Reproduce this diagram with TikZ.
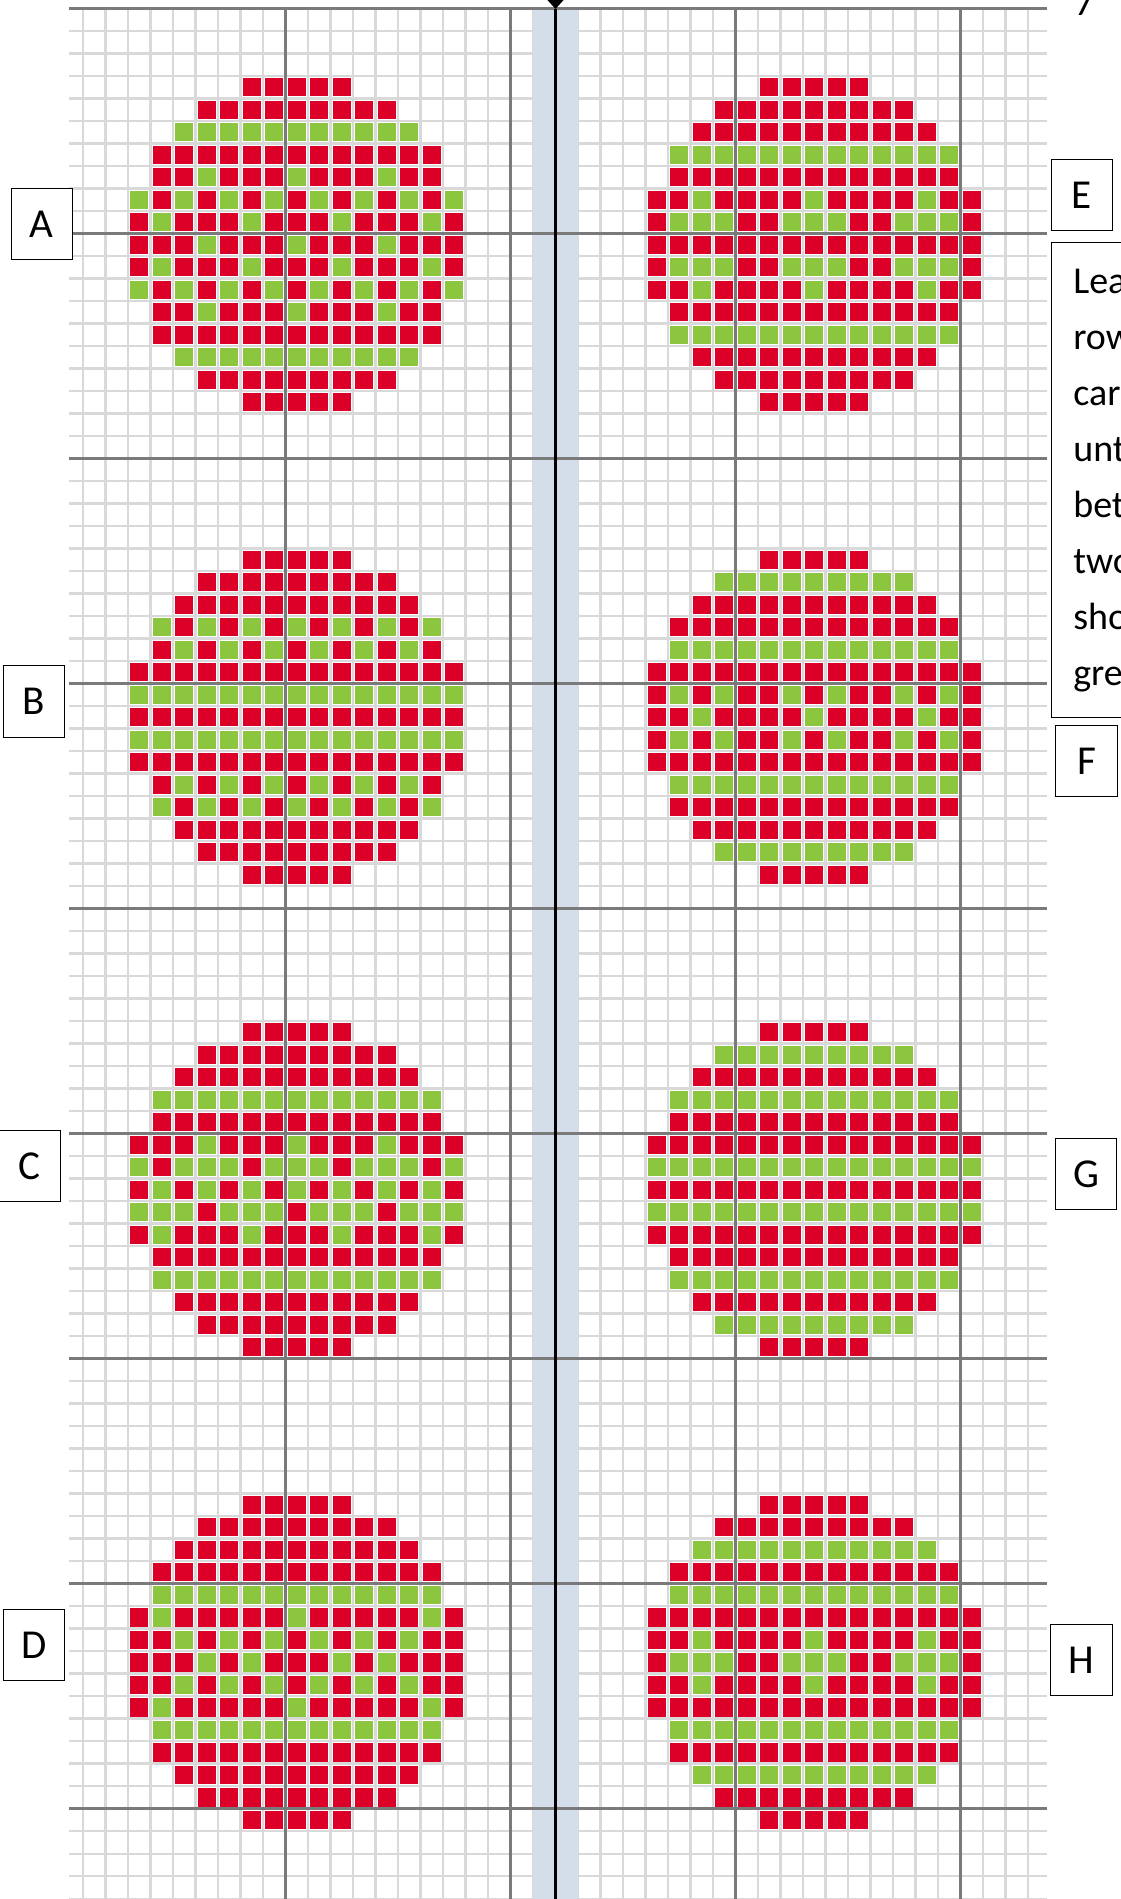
\documentclass[tikz,border=0pt]{standalone}
\usepackage{fontspec}
\setmainfont{Carlito}
\usetikzlibrary{positioning}

\definecolor{stitchred}{HTML}{DC0028}
\definecolor{stitchgreen}{HTML}{8CC63F}
\definecolor{gridgrey}{HTML}{D9D9D9}
\definecolor{majorgrey}{HTML}{7A7A7A}
\definecolor{bandblue}{HTML}{D3DEEA}

% one row of stitches: start column, top y, string of R/G/o
\newcommand\stitchrow[3]{%
  \def\stitchx{#1}\def\stitchy{#2}%
  \expandafter\stitchscan#3\relax}
\newcommand\stitchscan[1]{%
  \ifx#1\relax\else
    \path[cell #1] (\stitchx+0.09,\stitchy-0.09) rectangle (\stitchx+0.91,\stitchy-0.91);
    \pgfmathsetmacro\stitchx{\stitchx+1}%
    \expandafter\stitchscan
  \fi}
% a whole 15x15 chart: column, row, list of rows
\newcommand\stitchchart[3]{%
  \foreach \chartrow [count=\j from 0] in {#3}{%
    \pgfmathtruncatemacro\rowy{-#2-\j}%
    \stitchrow{#1}{\rowy}{\chartrow}}}

\begin{document}
\begin{tikzpicture}[
    x=0.5cm, y=0.5cm,
    finegrid/.style={draw=gridgrey, line width=1.3pt},
    majorgrid/.style={draw=majorgrey, line width=1.4pt},
    centreline/.style={draw=black, line width=1.8pt},
    cell R/.style={fill=stitchred},
    cell G/.style={fill=stitchgreen},
    cell o/.style={},
    letterbox/.style={
        draw, fill=white, line width=0.6pt,
        minimum width=1.37cm, minimum height=1.58cm,
        inner sep=0pt,
        font=\fontsize{26}{30}\selectfont
    },
    notebox/.style={
        draw, fill=white, line width=0.6pt,
        text width=3cm, minimum height=10.56cm,
        inner xsep=14pt, inner ysep=0pt,
        align=left,
        font=\fontsize{24}{35.4}\selectfont
    }
]

\useasboundingbox (-5.689,3.378) rectangle (44.133,-81.022);
\clip (-5.689,3.378) rectangle (44.133,-81.022);

% grid
\foreach \x in {-2,...,40}
    \draw[finegrid] (\x,3) -- (\x,-81.1);
\foreach \y in {3,2,...,-81}
    \draw[finegrid] (-2.62,\y) -- (40.85,\y);
\fill[bandblue] (18,3) rectangle (20,-81.1);
\foreach \x in {7,17,27,37}
    \draw[majorgrid] (\x,3) -- (\x,-81.1);
\draw[majorgrid] (-2.62,3) -- (40.85,3);
\foreach \y in {-7,-17,...,-77}
    \draw[majorgrid] (-2.62,\y) -- (40.85,\y);
\draw[centreline] (19,3) -- (19,-81.1);
\fill (18.62,3.4) -- (19.38,3.4) -- (19,2.98) -- cycle;

% A
\stitchchart{0}{0}{oooooRRRRRooooo,oooRRRRRRRRRooo,ooGGGGGGGGGGGoo,oRRRRRRRRRRRRRo,
  oRRGRRRGRRRGRRo,GRGRGRGRGRGRGRG,RGRRRGRRRGRRRGR,RRRGRRRGRRRGRRR,
  RGRRRGRRRGRRRGR,GRGRGRGRGRGRGRG,oRRGRRRGRRRGRRo,oRRRRRRRRRRRRRo,
  ooGGGGGGGGGGGoo,oooRRRRRRRRRooo,oooooRRRRRooooo}
% B
\stitchchart{0}{21}{oooooRRRRRooooo,oooRRRRRRRRRooo,ooRRRRRRRRRRRoo,oGRGRGRGRGRGRGo,
  oRGRGRGRGRGRGRo,RRRRRRRRRRRRRRR,GGGGGGGGGGGGGGG,RRRRRRRRRRRRRRR,
  GGGGGGGGGGGGGGG,RRRRRRRRRRRRRRR,oRGRGRGRGRGRGRo,oGRGRGRGRGRGRGo,
  ooRRRRRRRRRRRoo,oooRRRRRRRRRooo,oooooRRRRRooooo}
% C
\stitchchart{0}{42}{oooooRRRRRooooo,oooRRRRRRRRRooo,ooRRRRRRRRRRRoo,oGGGGGGGGGGGGGo,
  oRRRRRRRRRRRRRo,RRRGRRRGRRRGRRR,GRGGGRGGGRGGGRG,RGRGRGRGRGRGRGR,
  GGGRGGGRGGGRGGG,RGRRRGRRRGRRRGR,oRRRRRRRRRRRRRo,oGGGGGGGGGGGGGo,
  ooRRRRRRRRRRRoo,oooRRRRRRRRRooo,oooooRRRRRooooo}
% D
\stitchchart{0}{63}{oooooRRRRRooooo,oooRRRRRRRRRooo,ooRRRRRRRRRRRoo,oRRRRRRRRRRRRRo,
  oGGGGGGGGGGGGGo,RGRRRRRGRRRRRGR,RRGRGRGRGRGRGRR,RRRGRGRRRGRGRRR,
  RRGRGRGRGRGRGRR,RGRRRRRGRRRRRGR,oGGGGGGGGGGGGGo,oRRRRRRRRRRRRRo,
  ooRRRRRRRRRRRoo,oooRRRRRRRRRooo,oooooRRRRRooooo}
% E
\stitchchart{23}{0}{oooooRRRRRooooo,oooRRRRRRRRRooo,ooRRRRRRRRRRRoo,oGGGGGGGGGGGGGo,
  oRRRRRRRRRRRRRo,RRGRRRRGRRRRGRR,RGGGRRGGGRRGGGR,RRRRRRRRRRRRRRR,
  RGGGRRGGGRRGGGR,RRGRRRRGRRRRGRR,oRRRRRRRRRRRRRo,oGGGGGGGGGGGGGo,
  ooRRRRRRRRRRRoo,oooRRRRRRRRRooo,oooooRRRRRooooo}
% F
\stitchchart{23}{21}{oooooRRRRRooooo,oooGGGGGGGGGooo,ooRRRRRRRRRRRoo,oRRRRRRRRRRRRRo,
  oGGGGGGGGGGGGGo,RRRRRRRRRRRRRRR,RGRGRRGRGRRGRGR,RRGRRRRGRRRRGRR,
  RGRGRRGRGRRGRGR,RRRRRRRRRRRRRRR,oGGGGGGGGGGGGGo,oRRRRRRRRRRRRRo,
  ooRRRRRRRRRRRoo,oooGGGGGGGGGooo,oooooRRRRRooooo}
% G
\stitchchart{23}{42}{oooooRRRRRooooo,oooGGGGGGGGGooo,ooRRRRRRRRRRRoo,oGGGGGGGGGGGGGo,
  oRRRRRRRRRRRRRo,RRRRRRRRRRRRRRR,GGGGGGGGGGGGGGG,RRRRRRRRRRRRRRR,
  GGGGGGGGGGGGGGG,RRRRRRRRRRRRRRR,oRRRRRRRRRRRRRo,oGGGGGGGGGGGGGo,
  ooRRRRRRRRRRRoo,oooGGGGGGGGGooo,oooooRRRRRooooo}
% H
\stitchchart{23}{63}{oooooRRRRRooooo,oooRRRRRRRRRooo,ooGGGGGGGGGGGoo,oRRRRRRRRRRRRRo,
  oGGGGGGGGGGGGGo,RRRRRRRRRRRRRRR,RRGRRRRGRRRRGRR,RGGGRRGGGRRGGGR,
  RRGRRRRGRRRRGRR,RRRRRRRRRRRRRRR,oGGGGGGGGGGGGGo,oRRRRRRRRRRRRRo,
  ooGGGGGGGGGGGoo,oooRRRRRRRRRooo,oooooRRRRRooooo}

% labels
\node[letterbox] (A) at (-3.83,-6.57) {A};
\node[letterbox] (B) at (-4.18,-27.8) {B};
\node[letterbox] (C) at (-4.36,-48.45) {C};
\node[letterbox] (D) at (-4.18,-69.75) {D};
\node[letterbox] (E) at (42.4,-5.29) {E};
\node[notebox, below=0.245cm of E.south west, anchor=north west] (note)
    {Lea\\row\\car\\unt\\bet\\two\\sho\\gre};
\node[letterbox, below=0.155cm of note.south west, anchor=north west, xshift=0.1cm] (F) {F};
\node[letterbox] (G) at (42.58,-48.8) {G};
\node[letterbox] (H) at (42.38,-70.4) {H};
\node[anchor=base, inner sep=0pt, font=\fontsize{24}{28}\selectfont] (corner) at (42.5,2.667) {7};

\end{tikzpicture}
\end{document}
